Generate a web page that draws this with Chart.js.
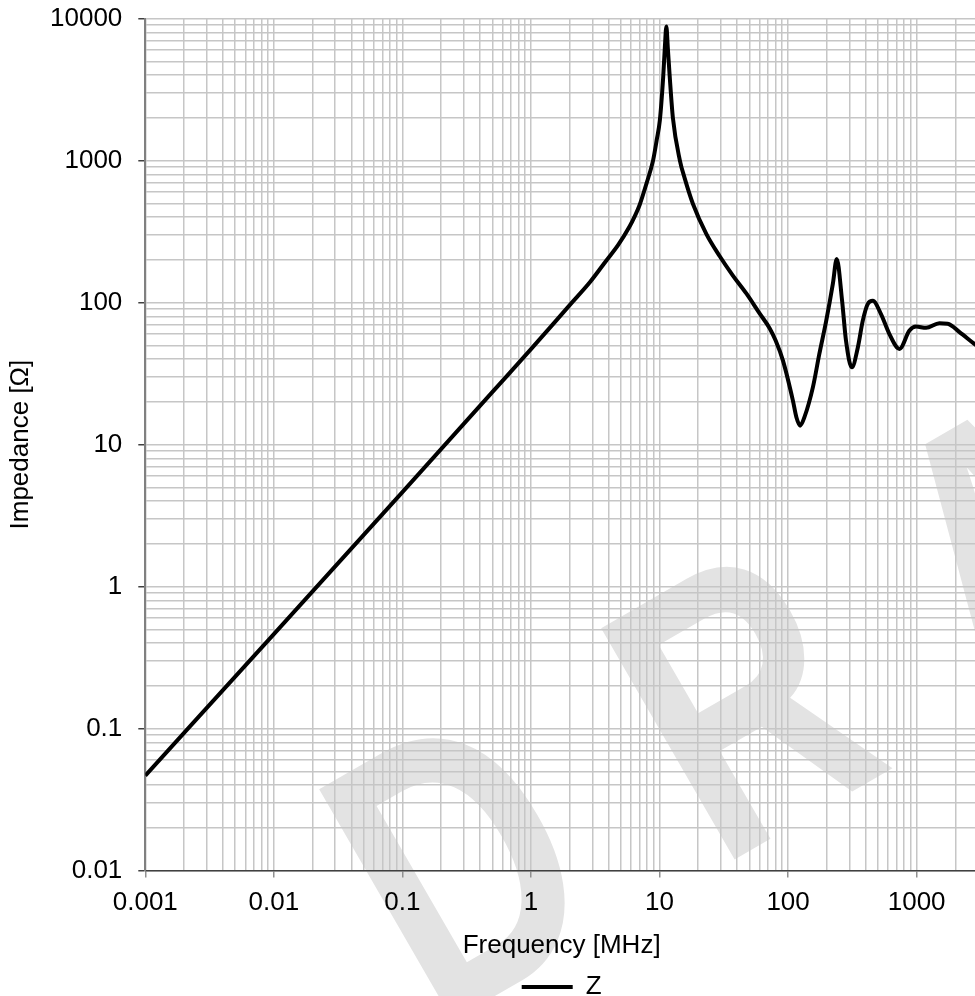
<!DOCTYPE html>
<html>
<head>
<meta charset="utf-8">
<script src="https://cdn.jsdelivr.net/npm/chart.js@4.4.0/dist/chart.umd.min.js"></script>
<style>
    html, body { margin: 0; padding: 0; overflow: hidden; background: #fff; }
    #wrap { width: 988px; height: 1009px; margin-top: -13px; position: relative; }
</style>
</head>
<body>
<div id="wrap"><canvas id="impChart"></canvas></div>
<script>
// values
const freqMHz = [0.001, 0.01, 0.1, 0.5, 1, 2, 2.87, 3.86, 4.77, 5.86, 6.41, 7.0, 7.9, 8.9, 9.5, 10.05, 10.67,
    11.0, 11.3, 11.6, 12.0, 12.7, 14.4, 15.7, 18.2, 23.1, 29.4, 37.2, 47.3, 60, 71.8, 80, 91.2, 109, 116, 124,
    134, 156, 175, 198, 223, 239, 263, 282, 313, 349, 381, 417, 456, 528, 614, 735, 879, 989, 1183, 1503,
    1743, 2154, 2810, 3000];
const impedance = [0.0467, 0.463, 4.63, 23.4, 47, 96, 139, 198, 255, 345, 405, 487, 686, 1000, 1392, 1914, 3860,
    6300, 8790, 6200, 3900, 2000, 1000, 750, 495, 305, 212, 155, 116, 84, 66, 54, 39, 20.4, 15.6, 13.6,
    15.6, 25.4, 43.5, 74.6, 136, 203, 103, 54, 35, 48.5, 74.6, 98, 103, 83, 60, 47.2, 63.5, 67.8, 66.4, 71.5,
    71, 62, 51.2, 49];
const xTickLabels = ['0.001', '0.01', '0.1', '1', '10', '100', '1000'];
const yTickLabels = ['0.01', '0.1', '1', '10', '100', '1000', '10000'];
const watermarkLetters = ['D', 'R', 'A'];

const fontFamily = '"Liberation Sans", Arial, sans-serif';

// 1..9 x 10^n grid ticks, decades flagged as major
function logTicks(min, max, labels) {
    let ticks = [];
    for (let e = Math.floor(Math.log10(min)); e <= Math.ceil(Math.log10(max)); e++) {
        for (let m = 1; m <= 9; m++) {
            let v = parseFloat((m * Math.pow(10, e)).toPrecision(6));
            if (v < min || v > max) continue;
            ticks.push({ value: v, major: labels.some(l => Number(l) === v) });
        }
    }
    return ticks;
}

function labelFor(labels) {
    return function (value) {
        let lbl = labels.find(l => Number(l) === value);
        return lbl !== undefined ? lbl : '';
    };
}

// big grey letters behind the grid
const watermark = {
    id: 'watermark',
    beforeDraw(chart) {
        let ctx = chart.ctx;
        let spots = [[436, 1043], [718, 882], [990, 728]];
        ctx.save();
        ctx.fillStyle = '#e3e3e3';
        ctx.font = 'bold 388px ' + fontFamily;
        ctx.textAlign = 'left';
        ctx.textBaseline = 'alphabetic';
        watermarkLetters.forEach((ch, i) => {
            ctx.save();
            ctx.translate(spots[i][0], spots[i][1]);
            ctx.rotate(-30 * Math.PI / 180);
            ctx.scale(0.74, 1);
            ctx.fillText(ch, 0, 0);
            ctx.restore();
        });
        ctx.restore();
    }
};

let points = freqMHz.map((f, i) => ({ x: f, y: impedance[i] }));
let tickFont = { family: fontFamily, size: 26 };

let ctx = document.getElementById('impChart').getContext('2d');
let impChart = new Chart(ctx, {
    type: 'line',
    data: {
        datasets: [{
            label: 'Z',
            data: points,
            borderColor: '#000',
            backgroundColor: '#000',
            borderWidth: 4,
            pointRadius: 0,
            cubicInterpolationMode: 'monotone'
        }]
    },
    options: {
        responsive: true,
        maintainAspectRatio: false,
        animation: false,
        layout: { padding: { left: 8, top: -11, right: 0, bottom: -14 } },
        plugins: {
            tooltip: { enabled: false },
            legend: {
                position: 'bottom',
                fullSize: false,
                labels: {
                    boxWidth: 51,
                    boxHeight: 4,
                    padding: 9,
                    color: '#000',
                    font: tickFont,
                    generateLabels: chart => chart.data.datasets.map((ds, i) => ({
                        text: ds.label, fillStyle: '#000', strokeStyle: '#000',
                        lineWidth: 0, hidden: false, datasetIndex: i
                    }))
                }
            }
        },
        scales: {
            x: {
                type: 'logarithmic',
                min: 0.001,
                max: 3000,
                afterBuildTicks: s => { s.ticks = logTicks(0.001, 3000, xTickLabels); },
                grid: {
                    color: '#c6c6c6',
                    lineWidth: 1.5,
                    tickLength: 7,
                    tickWidth: 1.5,
                    tickColor: c => (c.tick && c.tick.major) ? '#909090' : 'rgba(0,0,0,0)'
                },
                border: { color: '#404040', width: 1.5 },
                ticks: {
                    autoSkip: false,
                    maxRotation: 0,
                    padding: 10,
                    color: '#000',
                    font: tickFont,
                    callback: labelFor(xTickLabels)
                },
                title: {
                    display: true,
                    text: 'Frequency [MHz]',
                    color: '#000',
                    font: tickFont,
                    padding: { top: 1, bottom: 4 }
                }
            },
            y: {
                type: 'logarithmic',
                min: 0.01,
                max: 10000,
                afterBuildTicks: s => { s.ticks = logTicks(0.01, 10000, yTickLabels); },
                grid: {
                    color: '#c6c6c6',
                    lineWidth: 1.5,
                    tickLength: 7,
                    tickWidth: 1.5,
                    tickColor: c => (c.tick && c.tick.major) ? '#404040' : 'rgba(0,0,0,0)'
                },
                border: { color: '#808080', width: 2 },
                ticks: {
                    autoSkip: false,
                    padding: 16,
                    color: '#000',
                    font: tickFont,
                    callback: labelFor(yTickLabels)
                },
                title: {
                    display: true,
                    text: 'Impedance [Ω]',
                    color: '#000',
                    font: { family: fontFamily, size: 26, lineHeight: 1 },
                    padding: 0
                }
            }
        }
    },
    plugins: [watermark]
});
</script>
</body>
</html>
